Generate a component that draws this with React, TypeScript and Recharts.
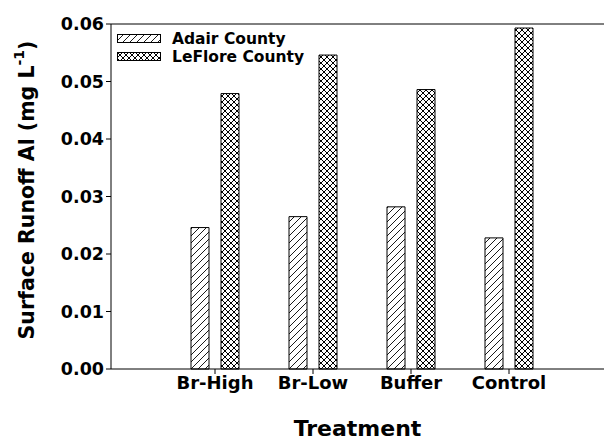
import React from 'react';
import { BarChart, Bar, XAxis, YAxis, ReferenceLine } from 'recharts';

const categories = ['Br-High', 'Br-Low', 'Buffer', 'Control'];
const adairValues = [0.0246, 0.0265, 0.0282, 0.0228];
const leforeValues = [0.0479, 0.0546, 0.0486, 0.0593];
const yTicks = [0, 0.01, 0.02, 0.03, 0.04, 0.05, 0.06];
const seriesNames = ['Adair County', 'LeFlore County'];

const data = categories.map((c, i) => ({ name: c, adair: adairValues[i], leflore: leforeValues[i] }));

const FONT = '"DejaVu Sans", "Liberation Sans", Arial, sans-serif';

const PatternDefs = ({ suffix = '' }: { suffix?: string }) => (
  <defs>
    <pattern id={'hatch' + suffix} patternUnits="userSpaceOnUse" width="7" height="7">
      <rect width="7" height="7" fill="#fff" />
      <path d="M-1,8 L8,-1 M-1,1 L1,-1 M6,8 L8,6" stroke="#000" strokeWidth="0.9" />
    </pattern>
    <pattern id={'cross' + suffix} patternUnits="userSpaceOnUse" width="6" height="6">
      <rect width="6" height="6" fill="#fff" />
      <path d="M0,0 L6,6 M6,0 L0,6" stroke="#000" strokeWidth="1" />
    </pattern>
  </defs>
);

const LegendBox = () => (
  <div style={{ position: 'absolute', left: 117, top: 30, fontFamily: FONT, fontWeight: 'bold', fontSize: 15.5, lineHeight: '15px', color: '#000' }}>
    {seriesNames.map((n, i) => (
      <div key={n} style={{ display: 'flex', alignItems: 'center', height: 18, whiteSpace: 'nowrap' }}>
        <svg width={44} height={10} style={{ marginRight: 11 }}>
          <PatternDefs suffix={'L' + i} />
          <rect x={0.5} y={0.5} width={43} height={8} fill={i === 0 ? `url(#hatchL${i})` : `url(#crossL${i})`} stroke="#000" strokeWidth={1} />
        </svg>
        <span>{n}</span>
      </div>
    ))}
  </div>
);

const YLabel = () => {
  const cx = 27;
  const cy = 190;
  return (
    <text x={cx} y={cy} transform={`rotate(-90, ${cx}, ${cy})`} textAnchor="middle" dominantBaseline="central"
      style={{ fontFamily: FONT, fontWeight: 'bold', fontSize: 20.5 }} fill="#000">
      Surface Runoff Al (mg L<tspan dy={-8} fontSize={14}>-1</tspan><tspan dy={8}>)</tspan>
    </text>
  );
};

export default function App() {
  return (
    <div style={{ position: 'absolute', left: 0, top: 0, width: 607, height: 442, background: '#fff' }}>
      <BarChart width={607} height={442} data={data} margin={{ top: 24, right: 3, bottom: 0, left: 0 }}
        barSize={18} barGap={12}>
        <PatternDefs />
        <XAxis dataKey="name" height={73} padding={{ left: 55, right: 46 }} stroke="#000"
          tickSize={5} tickLine={{ stroke: '#000' }}
          tick={{ fill: '#000', fontFamily: FONT, fontWeight: 'bold', fontSize: 18 }}
          label={{ value: 'Treatment', position: 'insideBottom', offset: 6, fill: '#000', style: { fontFamily: FONT, fontWeight: 'bold', fontSize: 22 } }} />
        <YAxis width={111} domain={[0, 0.06]} ticks={yTicks} stroke="#000" tickSize={5}
          tickFormatter={(v: number) => v.toFixed(2)} interval={0}
          tick={{ fill: '#000', fontFamily: FONT, fontWeight: 'bold', fontSize: 17.5 }}
          label={<YLabel />} />
        <ReferenceLine y={0.06} stroke="#000" strokeWidth={1} />
        <Bar dataKey="adair" name="Adair County" fill="url(#hatch)" stroke="#000" strokeWidth={1} isAnimationActive={false} />
        <Bar dataKey="leflore" name="LeFlore County" fill="url(#cross)" stroke="#000" strokeWidth={1} isAnimationActive={false} />
      </BarChart>
      <LegendBox />
    </div>
  );
}
